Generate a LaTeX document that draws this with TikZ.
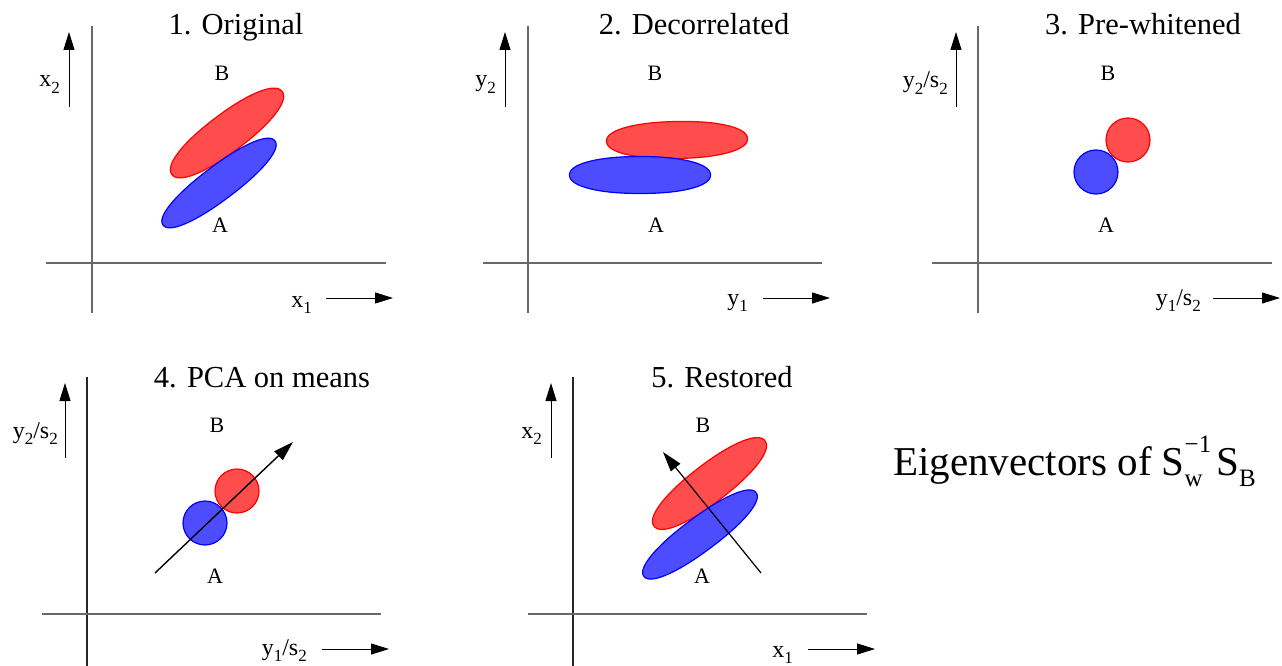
\documentclass[tikz,border=0pt]{standalone}
\usepackage{fontspec}
\setmainfont{Liberation Serif}
\newfontfamily\tnr{Liberation Serif}
\usetikzlibrary{arrows.meta}
\definecolor{fillred}{RGB}{255,77,77}
\definecolor{fillblue}{RGB}{77,77,255}
\definecolor{axisgray}{RGB}{105,105,105}
\newcommand\sbs[1]{\raisebox{-0.27em}{\fontsize{17}{17}\selectfont #1}}
\newcommand\smallfs[1]{{\fontsize{25}{25}\selectfont #1}}
% slightly squarish ellipse: #1 style, #2 centre, #3 angle, #4 semi-major, #5 semi-minor
\newcommand\blobshape[5]{%
  \begin{scope}[shift={#2}, rotate=#3]
    \draw[#1] plot[smooth cycle, domain=2.5:357.5, samples=72, variable=\t]
      ({#4*cos(\t)*abs(cos(\t))^(-0.08)}, {#5*sin(\t)*abs(sin(\t))^(-0.08)});
  \end{scope}}
\tikzset{
  axisline/.style={draw=axisgray, line width=1.6pt},
  axisdark/.style={draw=black!85, line width=1.3pt},
  axisarrow/.style={draw=black, line width=1pt, -{Triangle[length=18pt,width=11pt]}},
  vecarrow/.style={draw=black, line width=1.4pt, -{Triangle[length=20pt,width=12pt]}},
  redblob/.style={draw=red, fill=fillred, line width=1.2pt},
  blueblob/.style={draw=blue, fill=fillblue, line width=1.2pt},
  ptitle/.style={font=\tnr\fontsize{30.5}{30.5}\selectfont, anchor=base, inner sep=0pt},
  classlbl/.style={font=\tnr\fontsize{22}{22}\selectfont, anchor=base, inner sep=0pt},
  axlbl/.style={font=\tnr\fontsize{24}{24}\selectfont, anchor=base east, inner sep=0pt},
}
\begin{document}
\begin{tikzpicture}[x=1pt,y=-1pt]
\useasboundingbox (0,0) rectangle (1282,666);
\fill[white] (0,0) rectangle (1282,666);

% ---------------- Panel 1 ----------------
\draw[axisline] (92,26) -- (92,313);
\draw[axisline] (46,263) -- (386,263);
\coordinate (p1ya) at (69,107); \coordinate (p1yb) at (69,32);
\coordinate (p1xa) at (326,298); \coordinate (p1xb) at (393,298);
\draw[axisarrow] (p1ya) -- (p1yb);
\draw[axisarrow] (p1xa) -- (p1xb);
\node[axlbl] (p1yl) at (60,87) {x\sbs{2}};
\node[axlbl] (p1xl) at (312,307) {x\sbs{1}};
\node[ptitle] (p1t) at (236,35) {1. Original};
\blobshape{redblob}{(227,133)}{37}{69}{19}
\blobshape{blueblob}{(219,183)}{37}{70}{17}
\node[classlbl] (p1B) at (222,81) {B};
\node[classlbl] (p1A) at (220,232) {A};

% ---------------- Panel 2 ----------------
\draw[axisline] (528,26) -- (528,313);
\draw[axisline] (483,263) -- (822,263);
\coordinate (p2ya) at (505,107); \coordinate (p2yb) at (505,32);
\coordinate (p2xa) at (763,298); \coordinate (p2xb) at (830,298);
\draw[axisarrow] (p2ya) -- (p2yb);
\draw[axisarrow] (p2xa) -- (p2xb);
\node[axlbl] (p2yl) at (496,87) {y\sbs{2}};
\node[axlbl] (p2xl) at (748,305) {y\sbs{1}};
\node[ptitle] (p2t) at (694,35) {2. Decorrelated};
\blobshape{redblob}{(677,140)}{1}{70.5}{18.5}
\blobshape{blueblob}{(640,175)}{0}{70.5}{18.5}
\node[classlbl] (p2B) at (655,81) {B};
\node[classlbl] (p2A) at (656,232) {A};

% ---------------- Panel 3 ----------------
\draw[axisline] (978,26) -- (978,313);
\draw[axisline] (932,263) -- (1272,263);
\coordinate (p3ya) at (956,107); \coordinate (p3yb) at (956,32);
\coordinate (p3xa) at (1213,298); \coordinate (p3xb) at (1280,298);
\draw[axisarrow] (p3ya) -- (p3yb);
\draw[axisarrow] (p3xa) -- (p3xb);
\node[axlbl] (p3yl) at (948,88) {y\sbs{2}/s\sbs{2}};
\node[axlbl] (p3xl) at (1201,305) {y\sbs{1}/s\sbs{2}};
\node[ptitle] (p3t) at (1143,35) {3. Pre-whitened};
\draw[redblob] (1128,140) circle [radius=22pt];
\draw[blueblob] (1096,172) circle [radius=22pt];
\node[classlbl] (p3B) at (1108,81) {B};
\node[classlbl] (p3A) at (1106,232) {A};

% ---------------- Panel 4 ----------------
\draw[axisdark] (87,377) -- (87,666);
\draw[axisline] (42,614) -- (381,614);
\coordinate (p4ya) at (65,458); \coordinate (p4yb) at (65,383);
\coordinate (p4xa) at (322,649); \coordinate (p4xb) at (389,649);
\draw[axisarrow] (p4ya) -- (p4yb);
\draw[axisarrow] (p4xa) -- (p4xb);
\node[axlbl] (p4yl) at (58,438) {y\sbs{2}/s\sbs{2}};
\node[axlbl] (p4xl) at (307,655) {y\sbs{1}/s\sbs{2}};
\node[ptitle] (p4t) at (262,387) {4. PCA on means};
\draw[redblob] (237,491) circle [radius=22pt];
\draw[blueblob] (205,523) circle [radius=22pt];
\coordinate (p4va) at (155,573); \coordinate (p4vb) at (293,442);
\draw[vecarrow] (p4va) -- (p4vb);
\node[classlbl] (p4B) at (217,432) {B};
\node[classlbl] (p4A) at (215,583) {A};

% ---------------- Panel 5 ----------------
\draw[axisdark] (573,377) -- (573,666);
\draw[axisline] (528,614) -- (867,614);
\coordinate (p5ya) at (551,458); \coordinate (p5yb) at (551,383);
\coordinate (p5xa) at (808,649); \coordinate (p5xb) at (875,649);
\draw[axisarrow] (p5ya) -- (p5yb);
\draw[axisarrow] (p5xa) -- (p5xb);
\node[axlbl] (p5yl) at (542,438) {x\sbs{2}};
\node[axlbl] (p5xl) at (793,657) {x\sbs{1}};
\node[ptitle] (p5t) at (722,387) {5. Restored};
\blobshape{redblob}{(709.5,483.5)}{37.6}{70}{19}
\blobshape{blueblob}{(700,534.5)}{36.7}{70}{17}
\coordinate (p5va) at (761,573); \coordinate (p5vb) at (663,452);
\draw[vecarrow, line width=1.2pt] (p5va) -- (p5vb);
\node[classlbl] (p5B) at (703,432) {B};
\node[classlbl] (p5A) at (702,583) {A};

% ---------------- Caption ----------------
\node[font=\tnr\fontsize{41}{41}\selectfont, anchor=base west, inner sep=0pt] (eig) at (893,475)
  {Eigenvectors of S\rlap{\raisebox{-0.29em}{\smallfs{w}}}\raisebox{0.56em}{\smallfs{−1}}\hspace{5pt}S\raisebox{-0.29em}{\smallfs{B}}};
\end{tikzpicture}
\end{document}
